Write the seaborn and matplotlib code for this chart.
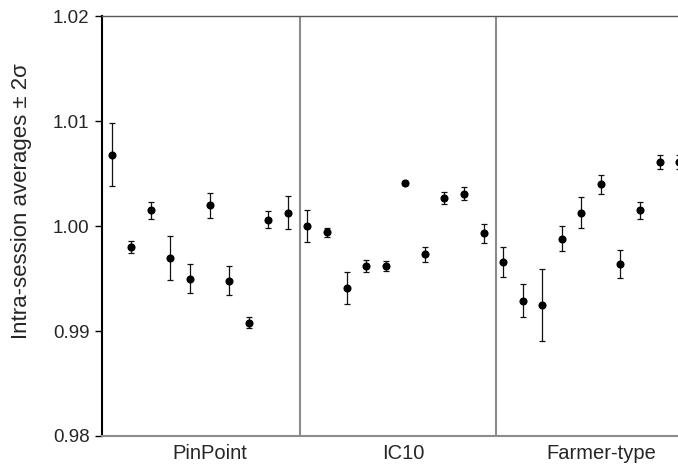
import matplotlib
matplotlib.use("Agg")
import matplotlib.pyplot as plt
import numpy as np
import pandas as pd
import seaborn as sns

# intra-session averages (position 1..30) and their 2-sigma half widths
groups = ["PinPoint", "IC10", "Farmer-type"]
pinpoint_avg = [1.0068, 0.9980, 1.0015, 0.9970, 0.9950, 1.0020, 0.9948, 0.9908, 1.0006, 1.0013]
pinpoint_err = [0.0030, 0.0006, 0.0008, 0.0021, 0.0014, 0.0012, 0.0014, 0.0005, 0.0008, 0.0016]
ic10_avg = [1.0000, 0.9994, 0.9941, 0.9962, 0.9962, 1.0041, 0.9973, 1.0027, 1.0031, 0.9993]
ic10_err = [0.0015, 0.0004, 0.0015, 0.0006, 0.0005, 0.0002, 0.0007, 0.0006, 0.0006, 0.0009]
farmer_avg = [0.9966, 0.9929, 0.9925, 0.9988, 1.0013, 1.0040, 0.9964, 1.0015, 1.0061, 1.0061]
farmer_err = [0.0014, 0.0016, 0.0034, 0.0012, 0.0015, 0.0009, 0.0013, 0.0008, 0.0007, 0.0007]
separators = [10.6, 20.65]
label_pos = [6.0, 15.9, 26.0]

avg = pinpoint_avg + ic10_avg + farmer_avg
err = pinpoint_err + ic10_err + farmer_err
df = pd.DataFrame({
    "pos": np.arange(1, len(avg) + 1),
    "avg": avg,
    "err": err,
    "group": np.repeat(groups, 10),
})

sns.set_style("white")
plt.rcParams["font.family"] = ["Liberation Sans", "DejaVu Sans"]

fig = plt.figure(figsize=(6.78, 4.67), dpi=100)
# the original picture is cropped on the right, so the axes run past the edge
ax = fig.add_axes([0.1504, 0.0664, 0.8658, 0.8987])

ax.errorbar(df["pos"], df["avg"], yerr=df["err"], fmt="none", ecolor="#111111",
            elinewidth=0.9, capsize=2.5, capthick=0.9, zorder=2)
sns.scatterplot(data=df, x="pos", y="avg", color="black", s=34, edgecolor="black",
                linewidth=0, ax=ax, zorder=3, legend=False)

for s in separators:
    ax.axvline(s, color="#8c8c8c", lw=1.5, zorder=1)

ax.set_xlim(0.5, 30.5)
ax.set_ylim(0.98, 1.02)
ax.set_yticks([0.98, 0.99, 1.00, 1.01, 1.02])
ax.set_yticklabels(["0.98", "0.99", "1.00", "1.01", "1.02"])
ax.set_xticks(label_pos)
ax.set_xticklabels(groups)
ax.tick_params(axis="x", length=0, pad=6, labelsize=14.5)
ax.tick_params(axis="y", length=5, width=1, color="black", direction="out",
               left=True, pad=4, labelsize=13.5)

ax.spines["left"].set_color("black")
ax.spines["left"].set_linewidth(1.5)
ax.spines["bottom"].set_color("#8c8c8c")
ax.spines["bottom"].set_linewidth(1.5)
ax.spines["top"].set_color("#555555")
ax.spines["top"].set_linewidth(1.0)
ax.spines["right"].set_visible(False)

ax.set_xlabel("")
ax.set_ylabel("Intra-session averages \u00b1 2\u03c3", fontsize=16)
ax.yaxis.set_label_coords(-0.12, 0.56)

fig.savefig("out.png", dpi=100)
